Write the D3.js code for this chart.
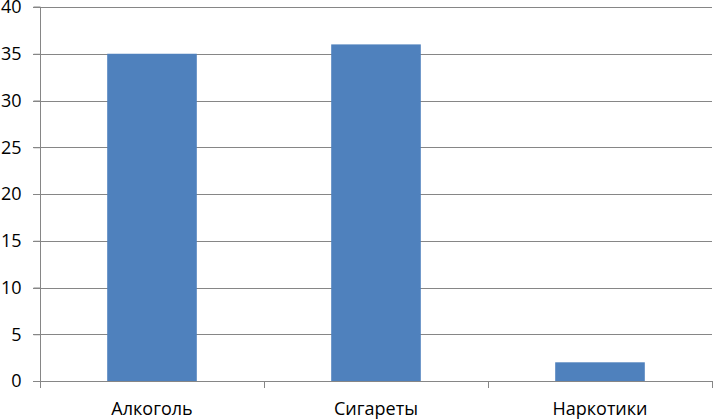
<!DOCTYPE html>
<html><head><meta charset="utf-8">
<script src="https://cdn.jsdelivr.net/npm/d3@7"></script>
<style>body{margin:0;background:#fff;} text{font-family:"Open Sans",sans-serif;}</style>
</head><body><svg id="c" width="714" height="419"></svg>
<script>
const categories = ["Алкоголь", "Сигареты", "Наркотики"];
const values = [35, 36, 2];
const yTicks = [0, 5, 10, 15, 20, 25, 30, 35, 40];

const svg = d3.select("#c");
const m = {left: 40, right: 712, top: 7, bottom: 381};
const x = d3.scaleBand().domain(categories).range([m.left, m.right]).paddingInner(0.6).paddingOuter(0.3);
const xb = d3.scaleBand().domain(categories).range([m.left, m.right]);
const y = d3.scaleLinear().domain([0, 40]).range([m.bottom, m.top]);
const grid = "#868686";

// gridlines
svg.append("g").selectAll("line").data(yTicks.filter(d => d > 0)).join("line")
  .attr("x1", m.left - 7).attr("x2", m.right).attr("y1", d => Math.round(y(d)) + 0.5).attr("y2", d => Math.round(y(d)) + 0.5)
  .attr("stroke", grid).attr("stroke-width", 1);

// bars
svg.append("g").selectAll("rect").data(values).join("rect")
  .attr("x", (d, i) => x(categories[i])).attr("width", x.bandwidth())
  .attr("y", d => y(d)).attr("height", d => y(0) - y(d))
  .attr("fill", "#4f81bd");

// y axis
const ya = svg.append("g").attr("transform", `translate(${m.left + 0.5},0)`)
  .call(d3.axisLeft(y).tickValues(yTicks).tickSize(7).tickPadding(12));
ya.select(".domain").attr("stroke", grid).attr("d", `M-7,${m.top}H0V${m.bottom}`);
ya.selectAll(".tick line").attr("stroke", grid);
ya.selectAll("text").attr("font-size", 18).attr("fill", "#000").attr("font-family", "Open Sans");

// x axis
const xa = svg.append("g").attr("transform", `translate(0,${m.bottom + 0.5})`)
  .call(d3.axisBottom(xb).tickSize(0).tickPadding(21));
xa.select(".domain").attr("stroke", grid).attr("d", `M${m.left - 7},0H${m.right + 0.5}`);
xa.selectAll("text").attr("font-size", 18).attr("fill", "#000").attr("font-family", "Open Sans");
// category boundary ticks
svg.append("g").selectAll("line").data(categories.map(c => xb(c)).concat([m.right])).join("line")
  .attr("x1", d => Math.round(d) + 0.5).attr("x2", d => Math.round(d) + 0.5)
  .attr("y1", m.bottom).attr("y2", m.bottom + 7).attr("stroke", grid);
</script></body></html>
